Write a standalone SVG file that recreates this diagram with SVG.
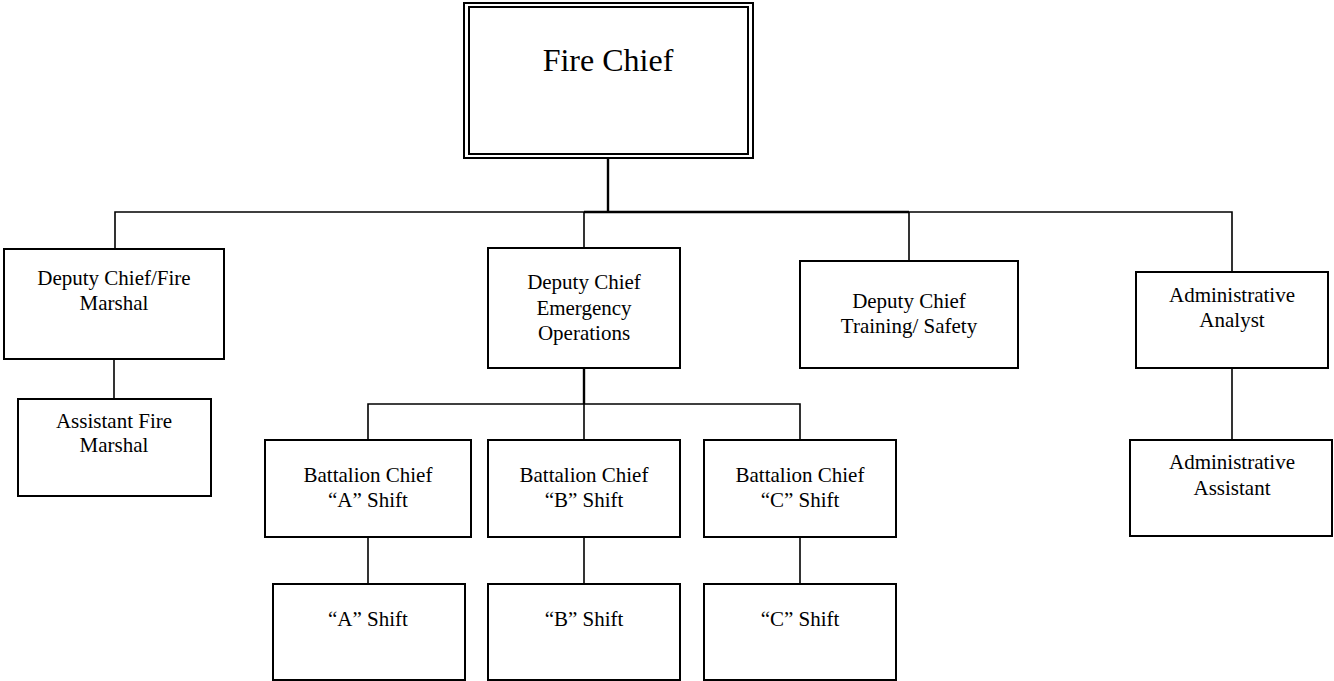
<svg xmlns="http://www.w3.org/2000/svg" width="1334" height="681" viewBox="0 0 1334 681">
<style>
.box{fill:#fff;stroke:#000;stroke-width:2}
.t{font-family:"Liberation Serif","Times New Roman",serif;font-size:21px;fill:#000;text-anchor:middle}
.big{font-size:32px}
.c{fill:none;stroke:#000;stroke-width:1.6}
.ct{fill:none;stroke:#000;stroke-width:2.4}
</style>
<rect width="1334" height="681" fill="#fff"/>
<g id="connectors">
<line class="ct" x1="608" y1="158" x2="608" y2="212"/>
<polyline class="c" points="115,249 115,212 1232,212 1232,272"/>
<line class="ct" x1="584" y1="212" x2="909" y2="212"/>
<line class="c" x1="584" y1="212" x2="584" y2="248"/>
<line class="c" x1="909" y1="212" x2="909" y2="261"/>
<line class="c" x1="114" y1="359" x2="114" y2="399"/>
<line class="ct" x1="584" y1="368" x2="584" y2="404"/>
<polyline class="c" points="368,440 368,404 800,404 800,440"/>
<line class="c" x1="584" y1="404" x2="584" y2="440"/>
<line class="c" x1="368" y1="537" x2="368" y2="584"/>
<line class="c" x1="584" y1="537" x2="584" y2="584"/>
<line class="c" x1="800" y1="537" x2="800" y2="584"/>
<line class="c" x1="1232" y1="368" x2="1232" y2="440"/>
</g>
<g id="fire-chief">
<rect class="box" x="464" y="3" width="289" height="155"/>
<rect class="box" x="469" y="7" width="279" height="147"/>
<text class="t big" x="608" y="71">Fire Chief</text>
</g>
<g id="deputy-fire-marshal">
<rect class="box" x="4" y="249" width="220" height="110"/>
<text class="t" x="114" y="285">Deputy Chief/Fire</text>
<text class="t" x="114" y="310">Marshal</text>
</g>
<g id="assistant-fire-marshal">
<rect class="box" x="18" y="399" width="193" height="97"/>
<text class="t" x="114" y="428">Assistant Fire</text>
<text class="t" x="114" y="452">Marshal</text>
</g>
<g id="deputy-emergency">
<rect class="box" x="488" y="248" width="192" height="120"/>
<text class="t" x="584" y="289">Deputy Chief</text>
<text class="t" x="584" y="315">Emergency</text>
<text class="t" x="584" y="340">Operations</text>
</g>
<g id="deputy-training">
<rect class="box" x="800" y="261" width="218" height="107"/>
<text class="t" x="909" y="308">Deputy Chief</text>
<text class="t" x="909" y="333">Training/ Safety</text>
</g>
<g id="admin-analyst">
<rect class="box" x="1136" y="272" width="192" height="96"/>
<text class="t" x="1232" y="302">Administrative</text>
<text class="t" x="1232" y="327">Analyst</text>
</g>
<g id="admin-assistant">
<rect class="box" x="1130" y="440" width="202" height="96"/>
<text class="t" x="1232" y="469">Administrative</text>
<text class="t" x="1232" y="495">Assistant</text>
</g>
<g id="battalion-a">
<rect class="box" x="265" y="440" width="206" height="97"/>
<text class="t" x="368" y="482">Battalion Chief</text>
<text class="t" x="368" y="507">“A” Shift</text>
</g>
<g id="battalion-b">
<rect class="box" x="488" y="440" width="192" height="97"/>
<text class="t" x="584" y="482">Battalion Chief</text>
<text class="t" x="584" y="507">“B” Shift</text>
</g>
<g id="battalion-c">
<rect class="box" x="704" y="440" width="192" height="97"/>
<text class="t" x="800" y="482">Battalion Chief</text>
<text class="t" x="800" y="507">“C” Shift</text>
</g>
<g id="shift-a">
<rect class="box" x="273" y="584" width="192" height="96"/>
<text class="t" x="368" y="626">“A” Shift</text>
</g>
<g id="shift-b">
<rect class="box" x="488" y="584" width="192" height="96"/>
<text class="t" x="584" y="626">“B” Shift</text>
</g>
<g id="shift-c">
<rect class="box" x="704" y="584" width="192" height="96"/>
<text class="t" x="800" y="626">“C” Shift</text>
</g>
</svg>
